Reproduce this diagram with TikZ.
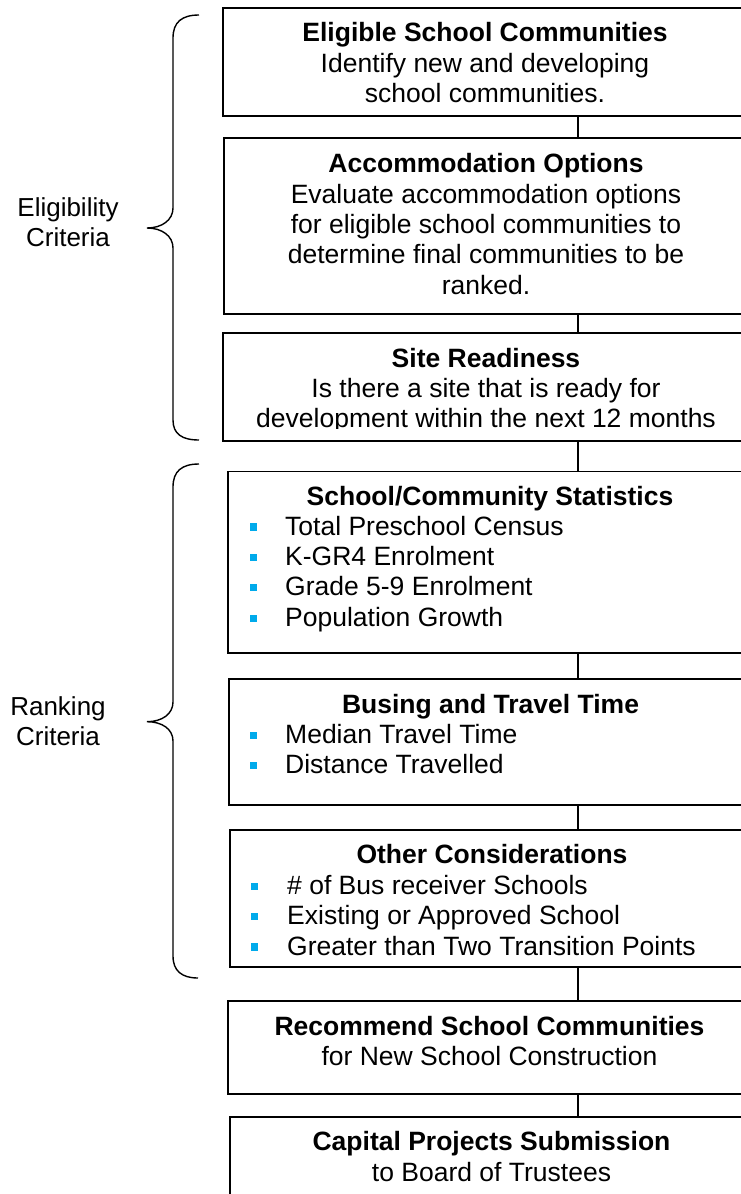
\documentclass[tikz,border=0pt]{standalone}
\usepackage{fontspec}
\setmainfont{Liberation Sans}
\definecolor{bulletcyan}{RGB}{0,170,235}
% small square bullet and a bullet line with a fixed indent
\newcommand\sqbullet{\hspace*{-0.5pt}\textcolor{bulletcyan}{\rule[4.5pt]{7.2pt}{7.2pt}}}
\newcommand\bitem[2][34.5pt]{\makebox[#1][l]{\sqbullet}#2\\}
\newcommand\ctrblock[1]{\parbox[t]{500pt}{\centering #1}}
\newcommand\lstblock[1]{\parbox[t]{460pt}{\raggedright #1}}

\begin{document}
\begin{tikzpicture}[x=1pt,y=-1pt,
  stepbox/.style={draw=black, line width=1.8pt, rectangle, inner sep=0pt, anchor=north},
  txt/.style={inner sep=0pt, anchor=base, font=\fontsize{26.5}{30.4}\selectfont},
  lst/.style={inner sep=0pt, anchor=base west, font=\fontsize{26.5}{30.4}\selectfont},
  side/.style={inner sep=0pt, anchor=base, font=\fontsize{26}{30}\selectfont},
  conn/.style={draw=black, line width=1.3pt},
  brace/.style={draw=black, line width=1.4pt}]

\useasboundingbox (0,0) rectangle (741,1194);
\clip (0,0) rectangle (741,1194);

% process boxes (they run past the right edge)
\node[stepbox, minimum width=710.6, minimum height=108.3] (b1) at (578,6.7) {};
\node[stepbox, minimum width=708,   minimum height=176]   (b2) at (578,137) {};
\node[stepbox, minimum width=710,   minimum height=108]   (b3) at (578,332) {};
\node[stepbox, minimum width=700.6, minimum height=181.2] (b4) at (578,470.5) {};
\node[stepbox, minimum width=698,   minimum height=125.7] (b5) at (578,678.3) {};
\node[stepbox, minimum width=696,   minimum height=136.7] (b6) at (578,829) {};
\node[stepbox, minimum width=700.6, minimum height=93]    (b7) at (578,1000) {};
\node[stepbox, minimum width=696,   minimum height=114]   (b8) at (578,1115.7) {};

% connectors
\draw[conn] (b1.south) -- (b2.north);
\draw[conn] (b2.south) -- (b3.north);
\draw[conn] (b3.south) -- (b4.north);
\draw[conn] (b4.south) -- (b5.north);
\draw[conn] (b5.south) -- (b6.north);
\draw[conn] (b6.south) -- (b7.north);
\draw[conn] (b7.south) -- (b8.north);

% box texts
\node[txt] (t1) at (485,41.7) {\ctrblock{\textbf{Eligible School Communities}\\
  Identify new and developing\\ school communities.}};
\node[txt] (t2) at (486,172.7) {\ctrblock{\textbf{Accommodation Options}\\
  Evaluate accommodation options\\ for eligible school communities to\\
  determine final communities to be\\ ranked.}};
\begin{scope}
  \clip (224,333) rectangle (740,428.5);
  \node[txt] (t3) at (486,367) {\ctrblock{\textbf{Site Readiness}\\
    Is there a site that is ready for\\ development within the next 12 months}};
\end{scope}

\node[txt] (t4) at (490,505) {\textbf{School/Community Statistics}};
\node[lst] (l4) at (250.5,535) {\lstblock{\bitem{Total Preschool Census}
  \bitem{K-GR4 Enrolment}\bitem{Grade 5-9 Enrolment}\bitem{Population Growth}}};

\node[txt] (t5) at (490.5,713.3) {\textbf{Busing and Travel Time}};
\node[lst] (l5) at (250.5,743.3) {\lstblock{\bitem{Median Travel Time}
  \bitem{Distance Travelled}}};

\node[txt] (t6) at (492,863.3) {\textbf{Other Considerations}};
\node[lst] (l6) at (251.5,894.3) {\lstblock{\bitem[35.5pt]{\# of Bus receiver Schools}
  \bitem[35.5pt]{Existing or Approved School}\bitem[35.5pt]{Greater than Two Transition Points}}};

\node[txt] (t7) at (489.5,1035) {\ctrblock{\textbf{Recommend School Communities}\\
  for New School Construction}};
\node[txt] (t8) at (491.5,1150.7) {\ctrblock{\textbf{Capital Projects Submission}\\
  to Board of Trustees}};

% side labels
\node[side] (elig) at (68,216) {\parbox[t]{150pt}{\centering Eligibility\\ Criteria}};
\node[side] (rank) at (58,715) {\parbox[t]{150pt}{\centering Ranking\\ Criteria}};

% curly braces
\draw[brace] (199,15) .. controls (182,15) and (173,22) .. (173,38) -- (173,208)
  .. controls (173,220) and (162,228) .. (147,228)
  .. controls (162,228) and (173,236) .. (173,248) -- (173,420)
  .. controls (173,434) and (182,440) .. (199,440);
\draw[brace] (199,464) .. controls (182,464) and (173,471) .. (173,487) -- (173,702)
  .. controls (173,714) and (162,721.7) .. (147,721.7)
  .. controls (162,721.7) and (173,729) .. (173,741) -- (173,956)
  .. controls (173,971) and (182,978) .. (198,978);
\end{tikzpicture}
\end{document}
